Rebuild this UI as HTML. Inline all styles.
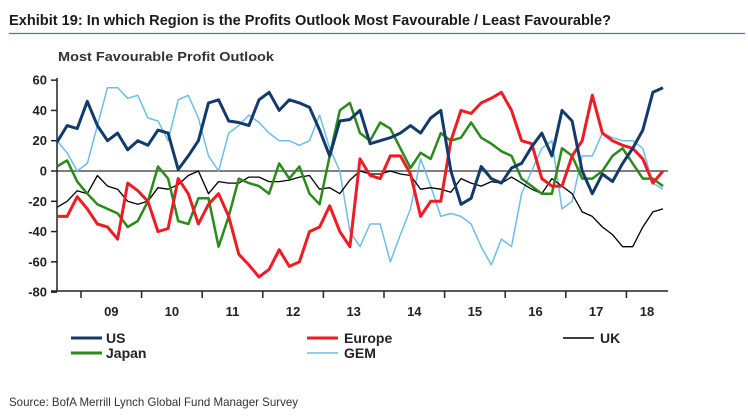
<!DOCTYPE html>
<html><head><meta charset="utf-8"><style>
html,body{margin:0;padding:0;background:#fff;}
svg{display:block;font-family:"Liberation Sans",Arial,sans-serif;}
</style></head><body>
<svg id="chart" width="748" height="416" viewBox="0 0 748 416">
<text x="9" y="25" font-size="15" font-weight="bold" fill="#1a1a1a" textLength="602" lengthAdjust="spacingAndGlyphs">Exhibit 19: In which Region is the Profits Outlook Most Favourable / Least Favourable?</text>
<line x1="9" y1="33.5" x2="745" y2="33.5" stroke="#5a7394" stroke-width="1.2"/>
<text x="58" y="61" font-size="13" font-weight="bold" fill="#333" textLength="216" lengthAdjust="spacingAndGlyphs">Most Favourable Profit Outlook</text>
<g id="axes"></g>
<g id="series"></g>
<g>
<line x1="71" y1="338" x2="102" y2="338" stroke="#123a6b" stroke-width="3"/>
<text x="106" y="343" font-size="14" font-weight="bold" fill="#222">US</text>
<line x1="71" y1="353" x2="102" y2="353" stroke="#2a8a1a" stroke-width="3"/>
<text x="106" y="358" font-size="14" font-weight="bold" fill="#222">Japan</text>
<line x1="307" y1="338" x2="338" y2="338" stroke="#ee1c24" stroke-width="3"/>
<text x="344" y="343" font-size="14" font-weight="bold" fill="#222">Europe</text>
<line x1="307" y1="353" x2="338" y2="353" stroke="#6cbde8" stroke-width="1.5"/>
<text x="344" y="358" font-size="14" font-weight="bold" fill="#222">GEM</text>
<line x1="563" y1="338" x2="594" y2="338" stroke="#000" stroke-width="1.5"/>
<text x="600" y="343" font-size="14" font-weight="bold" fill="#222">UK</text>
</g>
<text x="9" y="406" font-size="12" fill="#333" textLength="289" lengthAdjust="spacingAndGlyphs">Source: BofA Merrill Lynch Global Fund Manager Survey</text>
</svg>
<script>
const yTicks = [60, 40, 20, 0, -20, -40, -60, -80];
const yearLabels = ["09","10","11","12","13","14","15","16","17","18"];
const usValues = [19,30,28,46,30,20,25,14,20,17,27,25,1,10,20,45,47,33,32,30,47,52,40,47,45,42,27,10,33,34,40,18,20,22,25,30,25,35,40,0,-22,-18,3,-5,-8,2,5,16,25,10,40,33,0,-15,-2,-7,5,15,27,52,55];
const europeValues = [-30,-30,-17,-25,-35,-37,-45,-8,-13,-20,-40,-38,-5,-15,-35,-22,-15,-30,-55,-62,-70,-65,-52,-63,-60,-40,-37,-23,-40,-50,8,-3,-5,10,10,-2,-30,-20,-20,20,40,38,45,48,52,40,20,18,-5,-10,-10,10,20,50,25,20,17,15,8,-8,0];
const ukValues = [-24,-20,-13,-15,-3,-10,-12,-20,-22,-20,-11,-12,-9,-3,0,-15,-7,-8,-8,-4,-4,-7,-7,-6,-4,-3,-12,-11,-15,-6,0,-2,-2,0,-2,-3,-12,-11,-12,-14,-5,-8,-10,-7,-8,-4,-8,-12,-15,-5,-10,-15,-27,-30,-37,-42,-50,-50,-37,-27,-25];
const japanValues = [3,7,-7,-15,-22,-25,-28,-37,-33,-20,3,-5,-33,-35,-18,-18,-50,-30,-5,-8,-10,-15,5,-5,3,-15,-22,10,40,45,25,20,32,28,15,2,12,8,25,20,22,32,22,18,13,10,-5,-10,-15,-15,15,10,-5,-5,0,10,15,5,-5,-5,-10];
const gemValues = [20,12,0,5,30,55,55,48,50,35,33,20,47,50,35,10,0,25,30,37,32,25,20,20,17,20,37,15,0,-40,-50,-35,-35,-60,-42,-25,8,-10,-30,-28,-30,-35,-50,-62,-45,-50,-15,0,15,20,-25,-20,10,10,25,22,20,20,15,-8,-12];

const NS = "http://www.w3.org/2000/svg";
const X0 = 57, X1 = 668, Y0 = 171, YTOP = 79, YBOT = 291;
const stepX = (663 - X0) / (usValues.length - 1);
const xPos = i => X0 + i * stepX;
const yPos = v => Y0 - v * (YBOT - YTOP) / 140;
const yearTickX = k => 81 + k * 60.6;

const axes = document.getElementById('axes');
function mk(tag, attrs, parent) {
  const e = document.createElementNS(NS, tag);
  for (const k in attrs) e.setAttribute(k, attrs[k]);
  parent.appendChild(e);
  return e;
}
// zero line
const zl = mk('line', {x1: X0, y1: yPos(0), x2: X1, y2: yPos(0), stroke: '#555', 'stroke-width': 1.5}, axes);


const ya = mk('line', {x1: X0, y1: YTOP - 1, x2: X0, y2: YBOT, stroke: '#222', 'stroke-width': 1.5}, axes);


const xa = mk('line', {x1: X0 - 6, y1: YBOT, x2: X1, y2: YBOT, stroke: '#222', 'stroke-width': 1.5}, axes);


yTicks.forEach(v => {
  const t = mk('line', {x1: X0 - 6, y1: yPos(v), x2: X0, y2: yPos(v), stroke: '#222', 'stroke-width': 1.5}, axes);
  
  
  const l = mk('text', {x: 47, y: yPos(v) + 4.5, 'text-anchor': 'end', 'font-size': 13, 'font-weight': 'bold', fill: '#222'}, axes);
  l.textContent = v;
  
  
});
yearLabels.forEach((lab, k) => {
  const t = mk('line', {x1: yearTickX(k), y1: YBOT, x2: yearTickX(k), y2: YBOT + 7, stroke: '#222', 'stroke-width': 1.5}, axes);
  
  
  const cx = k < 9 ? (yearTickX(k) + yearTickX(k + 1)) / 2 : 647;
  const l = mk('text', {x: cx, y: 316, 'text-anchor': 'middle', 'font-size': 13, 'font-weight': 'bold', fill: '#222'}, axes);
  l.textContent = lab;
  
  
});

const sg = document.getElementById('series');
function drawSeries(vals, color, width, name) {
  const d = vals.map((v, i) => (i ? 'L' : 'M') + xPos(i).toFixed(1) + ',' + yPos(v).toFixed(1)).join(' ');
  const p = mk('path', {d: d, fill: 'none', stroke: color, 'stroke-width': width, 'stroke-linejoin': 'round'}, sg);
  
  
}
drawSeries(gemValues, '#6cbde8', 1.5, 'gem-line');
drawSeries(ukValues, '#000000', 1.3, 'uk-line');
drawSeries(japanValues, '#2a8a1a', 2.5, 'japan-line');
drawSeries(europeValues, '#ee1c24', 3, 'europe-line');
drawSeries(usValues, '#123a6b', 3, 'us-line');
</script>
</body></html>
